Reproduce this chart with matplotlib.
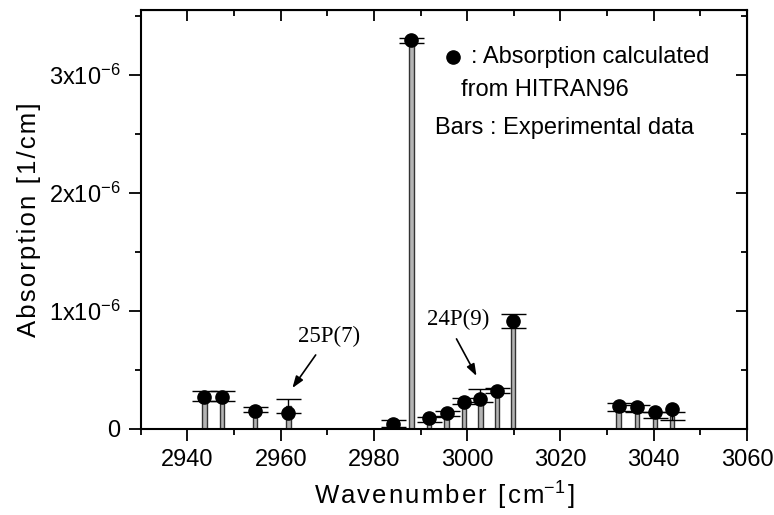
import numpy as np
import matplotlib
matplotlib.use("Agg")
from matplotlib import pyplot as plt

plt.rcParams['font.family'] = ['Liberation Sans', 'DejaVu Sans']
plt.rcParams['mathtext.fontset'] = 'custom'
plt.rcParams['mathtext.rm'] = 'Liberation Sans'
plt.rcParams['mathtext.default'] = 'regular'

# Wellenzahl der Linien [cm^-1]
wavenumber = [2943.6, 2947.4, 2954.5, 2961.6, 2984.1, 2988.0, 2991.8, 2995.6,
              2999.3, 3002.8, 3006.4, 3009.8, 3032.5, 3036.4, 3040.3, 3043.9]
# Experimentelle Werte (Balken) in 1e-6 1/cm
experimental = [0.28, 0.28, 0.163, 0.195, 0.048, 3.29, 0.083, 0.134,
                0.235, 0.282, 0.326, 0.913, 0.186, 0.172, 0.118, 0.11]
exp_error = [0.04, 0.045, 0.02, 0.057, 0.028, 0.02, 0.02, 0.02,
             0.025, 0.057, 0.02, 0.06, 0.03, 0.03, 0.024, 0.035]
# Aus HITRAN96 berechnet (Punkte)
hitran = [0.274, 0.274, 0.155, 0.133, 0.042, 3.29, 0.09, 0.133,
          0.226, 0.254, 0.319, 0.915, 0.195, 0.189, 0.141, 0.167]

scale = 1e-6
exp_y = np.array(experimental) * scale
err_y = np.array(exp_error) * scale
calc_y = np.array(hitran) * scale


def spaced(s):
    # etwas Sperrung wie im Original
    return '\u200a'.join(s)


fig = plt.figure(figsize=(7.74, 5.15), dpi=100)
ax = fig.add_axes([0.182, 0.167, 0.783, 0.814])

ax.bar(wavenumber, exp_y, width=1.0, color='#b4b4b4', edgecolor='#333333', linewidth=1.0, zorder=2)
ax.errorbar(wavenumber, exp_y, yerr=err_y, fmt='none', ecolor='black',
            elinewidth=1, capsize=9, capthick=1, zorder=3)
ax.plot(wavenumber, calc_y, 'o', color='black', markersize=9.5, zorder=4)

ax.set_xlim(2930, 3060)
ax.set_ylim(0, 3.55e-6)
ax.set_xticks([2940, 2960, 2980, 3000, 3020, 3040, 3060])
ax.set_xticks(np.arange(2930, 3061, 10), minor=True)
ax.set_yticks([0, 1e-6, 2e-6, 3e-6])
ax.set_yticklabels(['0', '1x10$^{-6}$', '2x10$^{-6}$', '3x10$^{-6}$'])
ax.set_yticks(np.arange(0, 3.6e-6, 0.5e-6), minor=True)

for s in ax.spines.values():
    s.set_linewidth(1.5)
ax.tick_params(which='major', direction='out', length=8.5, width=1.3, labelsize=17, pad=6)
ax.tick_params(which='minor', direction='out', length=4.5, width=1.3)

top = ax.secondary_xaxis('top')
top.set_xticks(ax.get_xticks())
top.set_xticks(np.arange(2930, 3061, 10), minor=True)
top.tick_params(which='major', direction='in', length=8, width=1.3, labeltop=False)
top.tick_params(which='minor', direction='in', length=4, width=1.3)
right = ax.secondary_yaxis('right')
right.set_yticks([0, 1e-6, 2e-6, 3e-6])
right.set_yticks(np.arange(0, 3.6e-6, 0.5e-6), minor=True)
right.tick_params(which='major', direction='in', length=8, width=1.3, labelright=False)
right.tick_params(which='minor', direction='in', length=4, width=1.3)

ax.set_xlabel(spaced('Wavenumber [cm') + '$^{-1}$' + '\u200a]', fontsize=18.5, labelpad=6)
ax.set_ylabel(spaced('Absorption [1/cm]'), fontsize=18.5, labelpad=6)

# Legende als Text
ax.plot([2997.0], [3.15e-6], 'o', color='black', markersize=9.5)
ax.text(3000.8, 3.15e-6, ': Absorption calculated', fontsize=17, va='center')
ax.text(3016.6, 2.87e-6, 'from HITRAN96', fontsize=17, va='center', ha='center')
ax.text(2993.2, 2.55e-6, 'Bars : Experimental data', fontsize=17, va='center')

# Linienbezeichnungen mit Pfeilen
ax.text(2970.4, 0.78e-6, '25P(7)', fontsize=16.5, family='Liberation Serif', ha='center', va='center')
ax.annotate('', xy=(2962.5, 0.347e-6), xytext=(2967.5, 0.627e-6),
            arrowprops=dict(arrowstyle='-|>,head_length=0.7,head_width=0.25', color='black',
                            lw=1.2, shrinkA=0, shrinkB=0))
ax.text(2998.1, 0.93e-6, '24P(9)', fontsize=16.5, family='Liberation Serif', ha='center', va='center')
ax.annotate('', xy=(3002.0, 0.449e-6), xytext=(2997.7, 0.763e-6),
            arrowprops=dict(arrowstyle='-|>,head_length=0.7,head_width=0.25', color='black',
                            lw=1.2, shrinkA=0, shrinkB=0))

fig.savefig('out.png', dpi=100)
